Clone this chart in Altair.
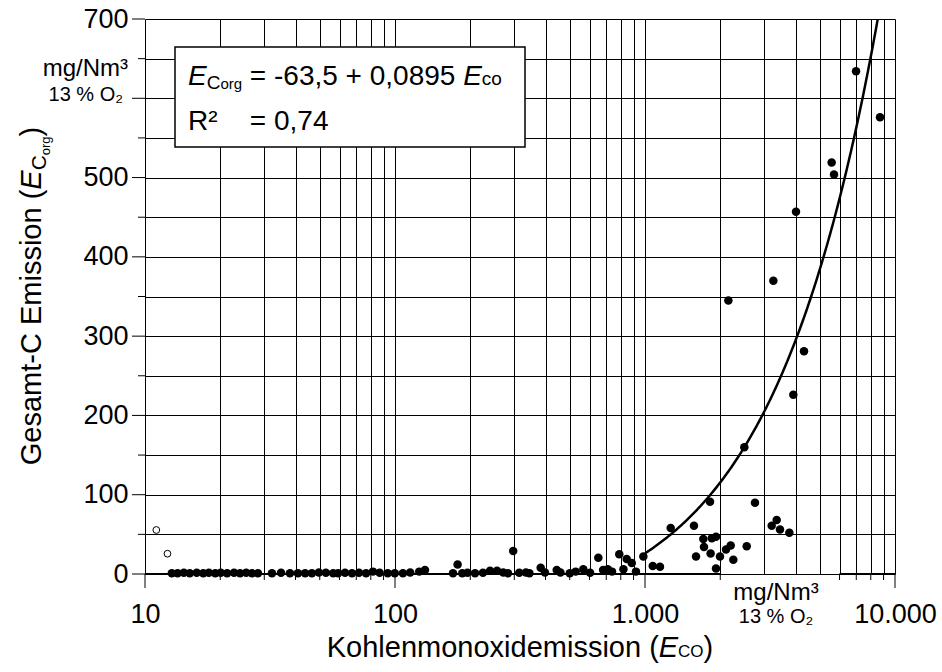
import altair as alt
import pandas as pd

# ---------------- data ----------------
co_filled = [12.8, 13.5, 14.3, 15.1, 16.1, 17.1, 18.0, 19.1, 20.1, 21.3, 22.7, 24.0, 25.4, 26.8, 28.3,
             32.2, 35.0, 38.0, 40.9, 43.7, 46.5, 49.6, 52.9, 56.6,
             59.2, 63.1, 67.3, 71.8, 76.6, 81.6, 86.8, 93.5, 99.8,
             107.6, 115, 125, 131.8, 170.6, 178, 185.8, 194.9, 209, 224.8,
             240, 256, 271, 283, 297, 314, 334, 345,
             382.6, 398, 443.5, 459, 500, 528, 566.6, 603, 650.6, 680, 710, 738, 789, 820, 845, 885, 920, 985,
             1074, 1148, 1267, 1570, 1600, 1711, 1722, 1820, 1830, 1850, 1923, 1923, 1995, 2109, 2202, 2256,
             2496, 2552, 2754, 3212, 3363, 3467, 3779,
             2155, 3262, 4018, 4325, 3920, 5580, 5702, 6985, 8710]
corg_filled = [1, 1, 1.5, 1, 1.5, 1, 1.5, 1, 1.5, 1, 1.5, 1, 1.5, 1, 1,
               1, 1.5, 1, 1, 1, 1, 2, 1.5, 1,
               1, 1.5, 1, 1.5, 1, 3, 1.5, 1, 1,
               1, 2, 3, 5, 1, 12, 1, 1.5, 1, 1.5,
               4, 4, 2, 1, 29, 1.5, 2, 1,
               8, 2, 5, 2, 1, 3, 6, 1.5, 20.5, 5, 6, 3, 25, 6, 19, 14, 3, 22,
               10, 9, 58, 61, 22, 44, 34, 91, 26, 45, 47, 7, 22, 31, 36, 18,
               160, 35, 90, 61, 68, 56, 52,
               345, 370, 457, 281, 226, 519, 504, 634, 576]
co_open = [11.1, 12.3]
corg_open = [55.5, 25.6]

fit_intercept = -63.5
fit_slope = 0.0895

x_ticks = [10, 20, 30, 40, 50, 60, 70, 80, 90,
           100, 200, 300, 400, 500, 600, 700, 800, 900,
           1000, 2000, 3000, 4000, 5000, 6000, 7000, 8000, 9000, 10000]
x_major = [10, 100, 1000, 10000]
x_minor_shown = [20, 30, 40, 50, 60, 70, 80, 90, 200, 300, 400, 500, 600, 700, 800, 900,
                 2000, 6000, 7000, 8000, 9000]
y_ticks = list(range(0, 701, 50))
y_major = list(range(0, 701, 100))
y_minor = list(range(50, 701, 100))

# ---------------- layout ----------------
W, H = 750, 555
PL, PT = 145, 19
FONT = "Liberation Sans"

AW = {' ': 278, '(': 333, ')': 333, '-': 333, '=': 584, '+': 584, ',': 278, '.': 278, '/': 278,
      '%': 889, '²': 333, '³': 333, 'A': 667, 'C': 722, 'E': 667, 'G': 778, 'K': 667, 'N': 722,
      'O': 778, 'R': 722, 'a': 556, 'c': 500, 'd': 556, 'e': 556, 'g': 556, 'h': 556, 'i': 222,
      'l': 222, 'm': 833, 'n': 556, 'o': 556, 'r': 333, 's': 500, 't': 278, 'x': 500}


def tw(s, fs):
    return sum(AW.get(ch, 556) for ch in s) * fs / 1000.0


xs = alt.Scale(type="log", domain=[10, 10000], nice=False)
ys = alt.Scale(domain=[0, 700], nice=False)

x_axis = alt.Axis(values=x_ticks, grid=True, gridColor="black", gridWidth=1, gridOpacity=1,
                  domain=False, ticks=False, tickSize=0, title=None,
                  labelExpr="datum.value == 10 ? '10' : datum.value == 100 ? '100' : "
                            "datum.value == 1000 ? '1.000' : datum.value == 10000 ? '10.000' : ''",
                  labelFont=FONT, labelFontSize=27, labelColor="black",
                  labelBaseline="alphabetic", labelPadding=48, labelOverlap=False, labelFlush=False)
y_axis = alt.Axis(values=y_ticks, grid=True, gridColor="black", gridWidth=1, gridOpacity=1,
                  domain=False, ticks=False, tickSize=0, title=None,
                  labelExpr="datum.value % 100 == 0 && datum.value != 600 ? datum.label : ''",
                  labelFont=FONT, labelFontSize=27, labelColor="black",
                  labelPadding=17, labelOverlap=False, labelFlush=False)


def X(f="co"):
    return alt.X(f"{f}:Q", scale=xs, axis=x_axis)


def Y(f="corg"):
    return alt.Y(f"{f}:Q", scale=ys, axis=y_axis)


one = pd.DataFrame({"k": [0]})


def txt(s, x, y, size, style="normal", align="left", angle=0):
    kw = dict(text=s, font=FONT, fontSize=size, fontStyle=style, align=align,
              baseline="alphabetic", color="black")
    if angle:
        kw["angle"] = angle
    return alt.Chart(one).mark_text(**kw).encode(x=alt.value(x), y=alt.value(y))


layers = []

# points
pts = pd.DataFrame({"co": co_filled, "corg": corg_filled})
layers.append(alt.Chart(pts).mark_circle(size=72, color="black", opacity=1).encode(x=X(), y=Y()))
opn = pd.DataFrame({"co": co_open, "corg": corg_open})
layers.append(alt.Chart(opn).mark_point(shape="circle", size=46, filled=True, fill="white",
                                         stroke="black", strokeWidth=1, opacity=1)
              .encode(x=X(), y=Y()))

# regression curve
fit = (alt.Chart(alt.sequence(3.0, 3.95, 0.004, as_="t"))
       .transform_calculate(co="pow(10, datum.t)")
       .transform_calculate(corg=f"{fit_intercept} + {fit_slope} * datum.co")
       .mark_line(color="black", strokeWidth=2.5, clip=True)
       .encode(x=X(), y=Y()))
layers.append(fit)

# tick marks (y)
layers.append(alt.Chart(pd.DataFrame({"corg": y_major})).mark_rule(color="black", strokeWidth=1)
              .encode(y=Y(), x=alt.value(-13), x2=alt.value(0)))
layers.append(alt.Chart(pd.DataFrame({"corg": y_minor})).mark_rule(color="black", strokeWidth=1)
              .encode(y=Y(), x=alt.value(-7), x2=alt.value(0)))
# tick marks (x)
layers.append(alt.Chart(pd.DataFrame({"co": x_major})).mark_rule(color="black", strokeWidth=1)
              .encode(x=X(), y=alt.value(H), y2=alt.value(H + 14)))
layers.append(alt.Chart(pd.DataFrame({"co": x_minor_shown})).mark_rule(color="black", strokeWidth=1)
              .encode(x=X(), y=alt.value(H), y2=alt.value(H + 6)))
# bottom border (interrupted under the unit label)
border = pd.DataFrame({"co": [10, 6000], "co2": [2000, 10000], "corg": [0, 0]})
layers.append(alt.Chart(border).mark_rule(color="black", strokeWidth=2)
              .encode(x=X(), x2="co2:Q", y=Y()))

# equation box
layers.append(alt.Chart(one).mark_rect(fill="white", stroke="black", strokeWidth=1.5)
              .encode(x=alt.value(30), x2=alt.value(380), y=alt.value(28), y2=alt.value(128)))
ex = 188 - PL
fs_eq = 28
b1 = 85 - PT
b2 = 130 - PT
sp = tw(" ", fs_eq)
x_c = ex + tw("E", fs_eq)
x_org = x_c + tw("C", 19)
x_eq = x_org + tw("org", 15) + sp
main1 = "= -63,5 + 0,0895"
x_e2 = x_eq + tw(main1, fs_eq) + sp
x_co = x_e2 + tw("E", fs_eq)
layers += [
    txt("E", ex, b1, fs_eq, "italic"),
    txt("C", x_c, b1 + 4, 19),
    txt("org", x_org, b1 + 4, 15),
    txt(main1, x_eq, b1, fs_eq),
    txt("E", x_e2, b1, fs_eq, "italic"),
    txt("co", x_co, b1, 19),
    txt("R²", ex, b2, fs_eq),
    txt("= 0,74", x_eq, b2, fs_eq),
]

# unit labels
layers += [
    txt("mg/Nm³", 128 - PL, 76 - PT, 24, align="right"),
    txt("13 % O₂", 123 - PL, 101 - PT, 20, align="right"),
    txt("mg/Nm³", 776 - PL, 600 - PT, 24, align="center"),
    txt("13 % O₂", 776 - PL, 623 - PT, 20, align="center"),
]

# x title
fs_t = 29
pA, pB, pC, pD = "Kohlenmonoxidemission (", "E", "CO", ")"
tot = tw(pA, fs_t) + tw(pB, fs_t) + tw(pC, 17) + tw(pD, fs_t)
sx = 520 - PL - tot / 2
bx = 657 - PT
layers += [
    txt(pA, sx, bx, fs_t),
    txt(pB, sx + tw(pA, fs_t), bx, fs_t, "italic"),
    txt(pC, sx + tw(pA, fs_t) + tw(pB, fs_t), bx, 17),
    txt(pD, sx + tw(pA, fs_t) + tw(pB, fs_t) + tw(pC, 17), bx, fs_t),
]

# y title (rotated, reading upward)
qA, qB, qC, qD, qE = "Gesamt-C Emission (", "E", "C", "org", ")"
ytot = tw(qA, fs_t) + tw(qB, fs_t) + tw(qC, 21) + tw(qD, 13) + tw(qE, fs_t)
sy = 296 - PT + ytot / 2
bxl = 41 - PL
p1 = sy - tw(qA, fs_t)
p2 = p1 - tw(qB, fs_t)
p3 = p2 - tw(qC, 21)
p4 = p3 - tw(qD, 13)
layers += [
    txt(qA, bxl, sy, fs_t, angle=270),
    txt(qB, bxl, p1, fs_t, "italic", angle=270),
    txt(qC, bxl + 5, p2, 21, angle=270),
    txt(qD, bxl + 9, p3, 13, angle=270),
    txt(qE, bxl, p4, fs_t, angle=270),
]

chart = (alt.layer(*layers)
         .properties(width=W, height=H, background="white",
                     autosize=alt.AutoSizeParams(type="none"),
                     padding={"left": PL, "top": PT, "right": 942 - PL - W, "bottom": 672 - PT - H})
         .configure_view(strokeWidth=0))

chart.save("out.html", embed_options={"renderer": "svg", "actions": False})
